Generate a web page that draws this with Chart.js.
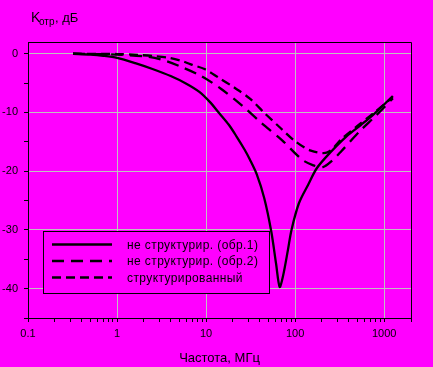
<!DOCTYPE html>
<html>
<head>
<meta charset="utf-8">
<script src="https://cdn.jsdelivr.net/npm/chart.js@4.4.0/dist/chart.umd.min.js"></script>
<style>
html, body { margin: 0; padding: 0; background: #ff00ff; }
canvas { display: block; }
</style>
</head>
<body>
<canvas id="grafica" width="433" height="367"></canvas>
<script>
// кривая 1 - не структурированный (обр.1)
var freq1 = [0.32, 0.5, 0.7, 1, 1.6, 2.5, 4, 6, 8.4, 11, 14, 18, 22, 27, 31, 37, 45, 54, 61, 67, 73, 83, 91, 110, 140, 175, 245, 375, 550, 750, 1250];
var loss1 = [0, -0.15, -0.35, -0.7, -1.6, -2.6, -3.8, -5.1, -6.5, -8.2, -10.1, -12.1, -14.1, -16.3, -18.0, -20.5, -24.6, -30.3, -35.7, -39.7, -37.9, -33.4, -30.0, -25.5, -22.3, -19.5, -16.9, -14.1, -12.1, -10.4, -7.2];
// кривая 2 - не структурированный (обр.2)
var freq2 = [0.32, 1, 2, 3, 5, 8.8, 14.8, 24.8, 42, 71, 119, 160, 205, 260, 330, 530, 800, 1250];
var loss2 = [0, -0.15, -0.45, -0.9, -2.1, -3.8, -6.0, -8.7, -11.8, -14.7, -18.0, -19.0, -19.3, -18.2, -16.6, -13.2, -10.6, -7.6];
// кривая 3 - структурированный
var freq3 = [0.32, 1, 1.7, 2.6, 3.8, 5.5, 7, 9.6, 13.6, 20.9, 30.8, 46, 68, 100, 150, 230, 344, 500, 750, 1250];
var loss3 = [0, -0.05, -0.2, -0.4, -0.7, -1.3, -1.9, -2.6, -4.0, -5.8, -7.6, -10.2, -12.6, -14.9, -16.5, -16.8, -14.3, -12.3, -10.2, -7.4];

var labels = ["не структурир. (обр.1)", "не структурир. (обр.2)", "структурированный"];
var yTicks = [-45, -40, -35, -30, -25, -20, -15, -10, -5, 0];
var xMajor = [0.1, 1, 10, 100, 1000];

function toPoints(xs, ys) {
    return xs.map(function (x, i) { return { x: x, y: ys[i] }; });
}

var xTicks = [];
xMajor.forEach(function (d) {
    for (var m = 1; m <= 9; m++) {
        if (m * d <= 2000) xTicks.push(m * d);
    }
});
xTicks.push(2000);

function isMajor(v) {
    var l = Math.log10(v);
    return Math.abs(l - Math.round(l)) < 1e-6;
}

var decor = {
    id: 'decor',
    beforeDraw: function (chart) {
        var c = chart.ctx;
        c.save();
        c.fillStyle = '#ff00ff';
        c.fillRect(0, 0, chart.width, chart.height);
        c.restore();
    },
    afterDraw: function (chart) {
        var c = chart.ctx;
        var a = chart.chartArea;
        c.save();
        // рамка сверху и справа
        c.strokeStyle = '#000';
        c.lineWidth = 1;
        c.beginPath();
        c.moveTo(a.left, a.top + 0.5);
        c.lineTo(a.right + 0.5, a.top + 0.5);
        c.lineTo(a.right + 0.5, a.bottom);
        c.stroke();

        // подпись оси Y
        c.fillStyle = '#000';
        c.textBaseline = 'alphabetic';
        c.textAlign = 'left';
        c.font = '14px "Liberation Sans", Arial, sans-serif';
        c.fillText('K', 31, 22);
        c.font = '10px "Liberation Sans", Arial, sans-serif';
        c.fillText('отр', 39, 25);
        c.font = '13px "Liberation Sans", Arial, sans-serif';
        c.fillText(', дБ', 55, 22);

        // подпись оси X
        c.textAlign = 'center';
        c.fillText('Частота, МГц', (a.left + a.right) / 2, 362);

        // легенда
        c.fillStyle = '#ff00ff';
        c.fillRect(43, 231, 226, 62);
        c.strokeStyle = '#000';
        c.strokeRect(43.5, 231.5, 226, 62);
        var rows = [244.5, 261, 277.5];
        c.font = '12px "Liberation Sans", Arial, sans-serif';
        c.letterSpacing = '0.4px';
        c.textAlign = 'left';
        c.textBaseline = 'middle';
        chart.data.datasets.forEach(function (ds, i) {
            c.lineWidth = ds.borderWidth;
            c.setLineDash(ds.borderDash || []);
            c.beginPath();
            c.moveTo(52, rows[i]);
            c.lineTo(112, rows[i]);
            c.stroke();
            c.setLineDash([]);
            c.fillStyle = '#000';
            c.fillText(ds.label, 127, rows[i] + 1);
        });
        c.restore();
    }
};

var ctx = document.getElementById("grafica").getContext('2d');
var grafica = new Chart(ctx, {
    type: 'line',
    data: {
        datasets: [{
            label: labels[0],
            data: toPoints(freq1, loss1),
            borderColor: '#000',
            borderWidth: 2.3,
            pointRadius: 0,
            tension: 0.3
        }, {
            label: labels[1],
            data: toPoints(freq2, loss2),
            borderColor: '#000',
            borderWidth: 2.3,
            borderDash: [12, 7],
            pointRadius: 0,
            tension: 0.3
        }, {
            label: labels[2],
            data: toPoints(freq3, loss3),
            borderColor: '#000',
            borderWidth: 2.3,
            borderDash: [9, 5],
            pointRadius: 0,
            tension: 0.3
        }]
    },
    options: {
        responsive: false,
        animation: false,
        devicePixelRatio: 1,
        layout: { padding: { left: 0, top: 42, right: 22, bottom: 0 } },
        plugins: { legend: { display: false }, tooltip: { enabled: false } },
        scales: {
            x: {
                type: 'logarithmic',
                min: 0.1,
                max: 2000,
                afterBuildTicks: function (s) {
                    s.ticks = xTicks.map(function (v) { return { value: v }; });
                },
                afterFit: function (s) { s.height = 49; },
                grid: {
                    color: function (c) { return c.tick && isMajor(c.tick.value) && c.tick.value < 2000 ? '#c0c0c0' : 'rgba(0,0,0,0)'; },
                    tickColor: '#000',
                    tickLength: 4
                },
                border: { display: true, color: '#000', width: 1 },
                ticks: {
                    autoSkip: false,
                    maxRotation: 0,
                    padding: 5,
                    color: '#000',
                    font: { family: '"Liberation Sans", Arial, sans-serif', size: 11 },
                    callback: function (v) {
                        if (!isMajor(v) || v > 1000) return '';
                        return v < 1 ? '0.1' : String(Math.round(v));
                    }
                }
            },
            y: {
                type: 'linear',
                min: -45,
                max: 2,
                afterBuildTicks: function (s) {
                    s.ticks = yTicks.map(function (v) { return { value: v }; });
                },
                afterFit: function (s) { s.width = 28; },
                grid: {
                    color: function (c) { return c.tick && c.tick.value % 10 === 0 ? '#c0c0c0' : 'rgba(0,0,0,0)'; },
                    tickColor: '#000',
                    tickLength: 4
                },
                border: { display: true, color: '#000', width: 1 },
                ticks: {
                    padding: 6,
                    color: '#000',
                    font: { family: '"Liberation Sans", Arial, sans-serif', size: 11 },
                    callback: function (v) { return v % 10 === 0 ? String(v) : ''; }
                }
            }
        }
    },
    plugins: [decor]
});
</script>
</body>
</html>
